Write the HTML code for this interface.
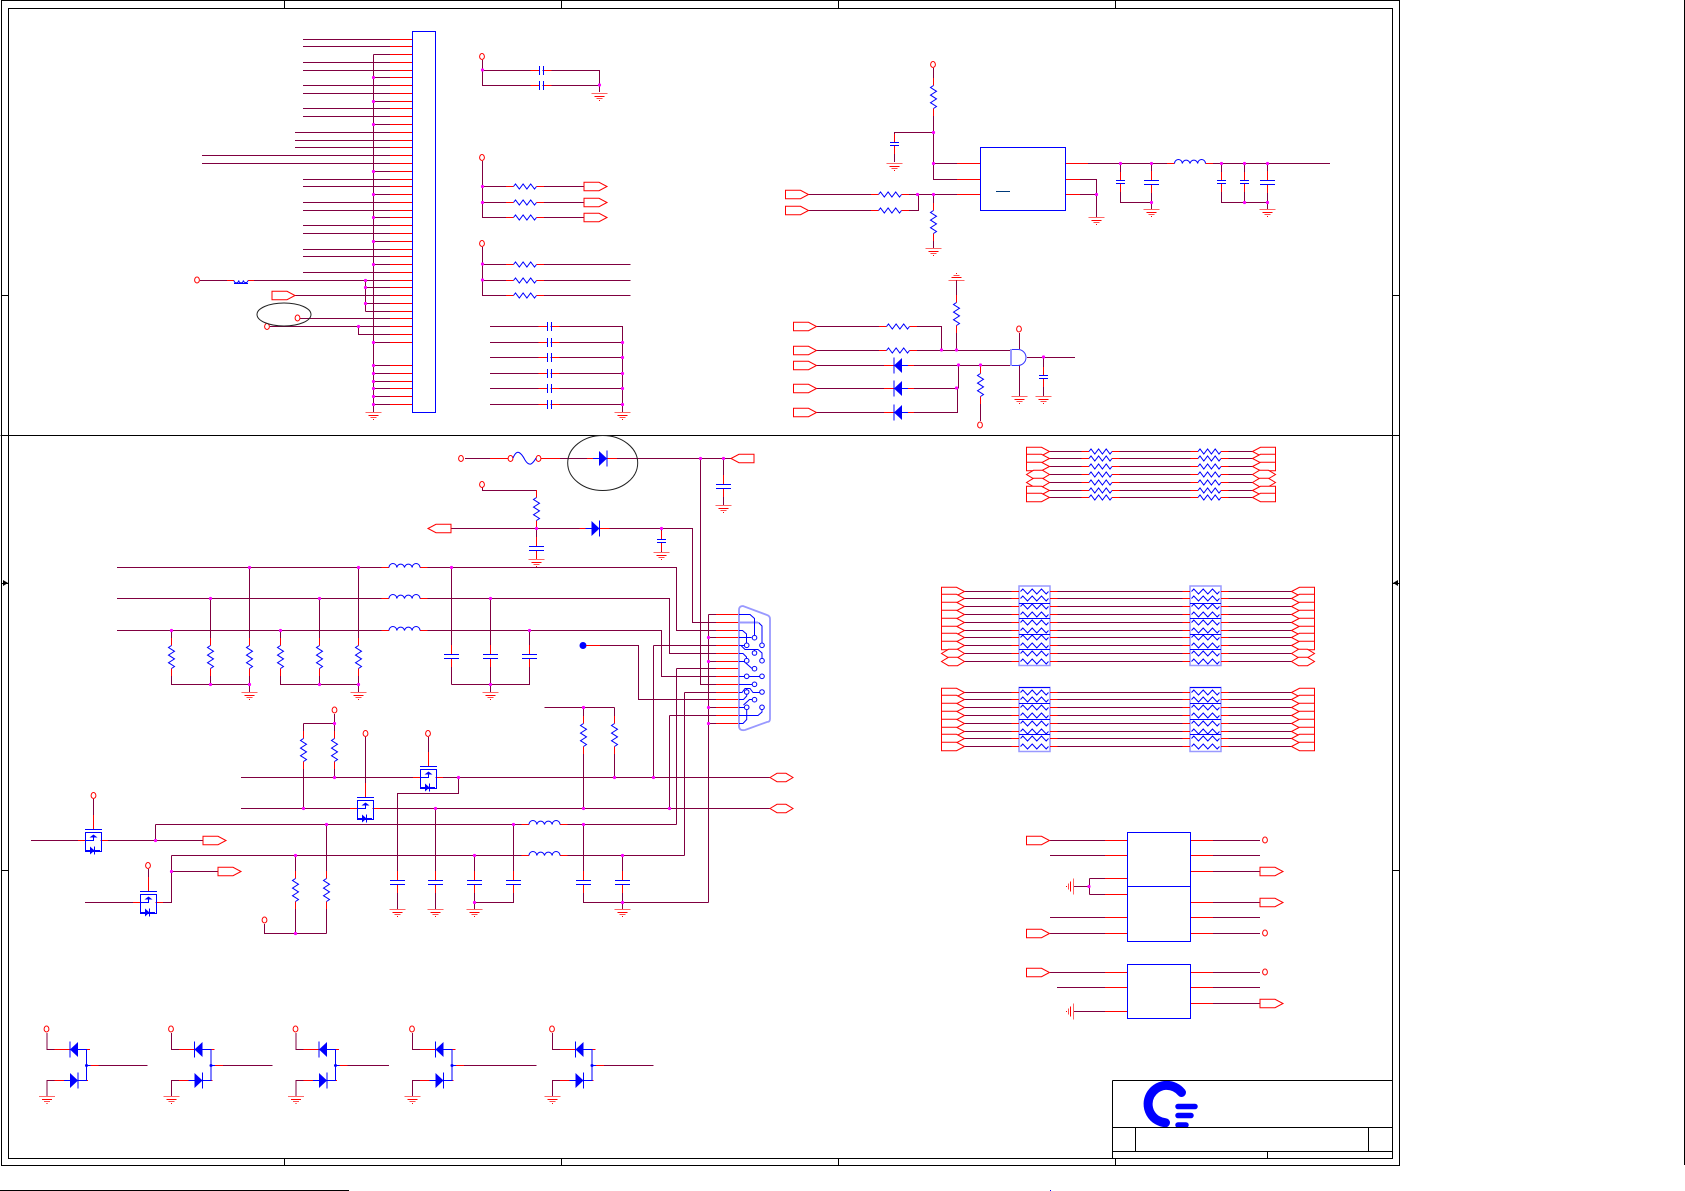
<!DOCTYPE html>
<html><head><meta charset="utf-8"><title>Schematic</title>
<style>
html,body{margin:0;padding:0;background:#fff}
svg{display:block}
.k{stroke:#000;stroke-width:1;fill:none;shape-rendering:crispEdges}
.w{stroke:#800040;stroke-width:1;fill:none;shape-rendering:crispEdges}
.r{stroke:#f00;stroke-width:1;fill:none;shape-rendering:crispEdges}
.b{stroke:#00f;stroke-width:1;fill:none}
.c{stroke:#00f;stroke-width:1;fill:none;shape-rendering:crispEdges}
.j{stroke:#f0f;stroke-width:3.2;stroke-linecap:round;fill:none}
</style></head><body>
<svg xmlns="http://www.w3.org/2000/svg" width="1685" height="1191" viewBox="0 0 1685 1191">
<defs>
<g id="rh"><rect x="-11.5" y="-2.5" width="23" height="6" fill="#fff"/><path class="r" d="M-19 .5H-11.5M11.5 .5H19"/><path class="b" d="M-11.5 .5L-9.5 -2L-5.7 3L-1.9 -2L1.9 3L5.7 -2L9.5 3L11.5 .5"/></g>
<g id="rv"><rect x="-4" y="-11.5" width="8" height="23" fill="#fff"/><path class="r" d="M.5 -19V-11.5M.5 11.5V19"/><path class="b" d="M.5 -11.5L-2.5 -9.5L3.5 -5.7L-2.5 -1.9L3.5 1.9L-2.5 5.7L3.5 9.5L.5 11.5"/></g>
<g id="rw"><rect x="-14" y="-2.5" width="28" height="6" fill="#fff"/><path class="r" d="M-23 .5H-15.5M15.5 .5H23"/><path class="b" d="M-14 .5L-11.7 -2L-7 3L-2.3 -2L2.3 3L7 -2L11.7 3L14 .5"/></g>
<g id="ch"><rect x="-1.5" y="-4" width="3" height="8" fill="#fff"/><path class="r" d="M-10.5 .5H-2M2 .5H10.5"/><path class="c" d="M-1.5 -4V5M2.5 -4V5"/></g>
<g id="cs"><rect x="-5" y="-1.5" width="10" height="3" fill="#fff"/><path class="r" d="M.5 -10V-2M.5 2V10"/><path class="c" d="M-4 -1.5H5M-4 1.5H5"/></g>
<g id="cm"><rect x="-7" y="-2" width="15" height="4" fill="#fff"/><path class="r" d="M.5 -11V-2M.5 2V11"/><path class="c" d="M-6.8 -1.5H7.8M-6.8 2.5H7.8"/></g>
<g id="g"><path class="r" d="M-7.500 .5H8.500" opacity=".6" stroke-width="2"/><path class="r" d="M-4.5 3.5H5.5"/><path class="r" d="M-2.500 5.5H3.500" opacity=".7"/><path class="r" d="M0 7.5H1"/></g>
<polygon id="fr" points="0,-4.2 15,-4.2 23,0 15,4.2 0,4.2" fill="#fff" stroke="#f00" stroke-width="1"/>
<polygon id="fl" points="0,0 8,-4.2 23,-4.2 23,4.2 8,4.2" fill="#fff" stroke="#f00" stroke-width="1"/>
<polygon id="fh" points="0,0 7,-4.2 16,-4.2 23,0 16,4.2 7,4.2" fill="#fff" stroke="#f00" stroke-width="1"/>
<ellipse id="p" cx="0" cy="0" rx="2.4" ry="3" fill="#fff" stroke="#f00" stroke-width="1"/>
<g id="ih"><rect x="-15.5" y="-5" width="31" height="8" fill="#fff"/><path class="r" d="M-23 .5H-15.5M15.5 .5H23"/><path class="b" d="M-15.5 .5A3.9 4 0 0 1 -7.7 .5A3.9 4 0 0 1 0 .5A3.9 4 0 0 1 7.7 .5A3.9 4 0 0 1 15.5 .5"/></g>
<g id="dl"><path class="r" d="M-14 .5H-4M10 .5H16"/><path d="M-4 .5L4 -7V8Z" fill="#00f"/><path class="b" d="M-4 -7.5V8.5M4 .5H10"/></g>
<g id="dr"><path class="r" d="M-16 .5H-10M4 .5H14"/><path d="M4 .5L-4 -7V8Z" fill="#00f"/><path class="b" d="M4 -7.5V8.5M-10 .5H-4"/></g>
<g id="m"><rect x="-7.5" y="-7.5" width="15" height="19" fill="#fff"/><path class="r" d="M.5 -25V-11M-15 .5H-7.5M7.5 .5H15"/><path class="b" d="M-8 -10.5H9M-7.5 -7.5H8.5V11.5H-7.5Z" stroke-width="1.2"/><path class="b" d="M.5 -2.5V.5H-7.5" stroke-width="1.2"/><path d="M.5 -5.5L4.5 -2.5H-3.5Z" fill="#00f"/><path d="M-3 6.5L1.5 10.5L-3 14.5Z" fill="#00f"/><path class="b" d="M1.5 6.5V14.5M-7 10.5H7"/></g>
<g id="pair"><use href="#p" x="0" y="1029"/><path class="w" d="M.5 1033V1049.5H8M.5 1096V1080.5H8"/><path class="r" d="M8 1049.5H24M8 1080.5H24"/><use href="#dl" x="27.5" y="1049"/><use href="#dr" x="27.5" y="1080"/><path class="b" d="M31.5 1049.5H40V1080.5H31.5M40 1065.5H44"/><circle cx="40" cy="1065.5" r="1.5" fill="#00f"/><path class="r" d="M44 1065.5H52"/><use href="#g" x="0" y="1096"/></g>
</defs>

<!-- drawing frame -->
<path class="k" d="M1 .5H1399.5V1165.5H1.5V.5M8.5 8.5H1392.5V1158.5H8.5ZM.5 435.5H1399.5M284.5 0V8M561.5 0V8M838.5 0V8M1115.5 0V8M284.5 1158V1166M561.5 1158V1166M838.5 1158V1166M1115.5 1158V1166M1 295.5H8M1 870.5H8M1392 295.5H1400M1392 870.5H1400M1684.5 0V1165M0 1190.5H349"/>
<path d="M8 583L3 580V586Z" fill="#000"/><path class="k" d="M2 583.5H8M1393 583.5H1399"/><path d="M1393 583L1398 580V586Z" fill="#000"/>
<rect x="1050" y="1190" width="1" height="1" fill="#00f"/>

<!-- top-left connector -->
<path class="w" d="M303 39.5H390M303 46.5H390M373.5 54.5H390M303 62.5H390M303 70.5H390M373.5 77.5H390M303 85.5H390M303 93.5H390M373.5 101.5H390M303 108.5H390M303 116.5H390M373.5 124.5H390M295 132.5H390M295 140.5H390M295 147.5H390M202 155.5H390M202 163.5H390M373.5 171.5H390M303 179.5H390M303 186.5H390M373.5 194.5H390M303 202.5H390M303 210.5H390M373.5 217.5H390M303 225.5H390M303 233.5H390M373.5 241.5H390M303 249.5H390M303 256.5H390M373.5 264.5H390M303 272.5H390M200 280.5H390M365.5 287.5H390M295 295.5H390M365.5 303.5H390M365.5 311.5H390M365.5 280.5V311.5M300 318.5H390M270 326.5H390M358.5 326.5V334.5H390M373.5 342.5H390M373.5 365.5H390M373.5 373.5H390M373.5 381.5H390M373.5 388.5H390M373.5 396.5H390M373.5 404.5H390M373.5 54.5V412"/>
<path class="r" d="M390 39.5H412M390 46.5H412M390 54.5H412M390 62.5H412M390 70.5H412M390 77.5H412M390 85.5H412M390 93.5H412M390 101.5H412M390 108.5H412M390 116.5H412M390 124.5H412M390 132.5H412M390 140.5H412M390 147.5H412M390 155.5H412M390 163.5H412M390 171.5H412M390 179.5H412M390 186.5H412M390 194.5H412M390 202.5H412M390 210.5H412M390 217.5H412M390 225.5H412M390 233.5H412M390 241.5H412M390 249.5H412M390 256.5H412M390 264.5H412M390 272.5H412M390 280.5H412M390 287.5H412M390 295.5H412M390 303.5H412M390 311.5H412M390 318.5H412M390 326.5H412M390 334.5H412M390 342.5H412M390 365.5H412M390 373.5H412M390 381.5H412M390 388.5H412M390 396.5H412M390 404.5H412"/>
<rect x="412.5" y="31.5" width="23" height="381" fill="#fff" stroke="#00f" stroke-width="1" shape-rendering="crispEdges"/>
<path class="j" d="M373.5 77.5h0M373.5 101.5h0M373.5 124.5h0M373.5 171.5h0M373.5 194.5h0M373.5 217.5h0M373.5 241.5h0M373.5 264.5h0M373.5 342.5h0M373.5 365.5h0M373.5 373.5h0M373.5 381.5h0M373.5 388.5h0M373.5 396.5h0M373.5 404.5h0M365.5 280.5h0M365.5 287.5h0M365.5 303.5h0M358.5 326.5h0"/>
<use href="#g" x="373" y="412"/>
<use href="#p" x="197" y="280"/>
<rect x="228" y="276" width="25" height="9" fill="#fff"/>
<path class="r" d="M227 280.5H234M248 280.5H254"/>
<path class="b" d="M234 280.5A2.4 3 0 0 0 238.7 280.5A2.4 3 0 0 0 243.4 280.5A2.4 3 0 0 0 248 280.5M234 283.5H248"/>
<use href="#fr" x="272" y="295.5"/>
<use href="#p" x="297.5" y="318"/>
<use href="#p" x="267" y="326.5"/>
<ellipse cx="284" cy="314.5" rx="27" ry="11.5" fill="none" stroke="#222" stroke-width="1"/>

<!-- caps top -->
<use href="#p" x="482" y="56.5"/>
<path class="w" d="M482.5 60V85.5H599.5V70.5H482.5M599.5 85.5V92"/>
<use href="#ch" x="541" y="70"/><use href="#ch" x="541" y="85"/>
<path class="j" d="M482.5 70h0M599.5 85h0"/>
<use href="#g" x="599" y="93"/>

<!-- pullups flags -->
<use href="#p" x="482" y="157.5"/>
<path class="w" d="M482.5 161V217.5H584M482.5 186.5H584M482.5 202.5H584"/>
<use href="#rh" x="525" y="186"/><use href="#rh" x="525" y="202"/><use href="#rh" x="525" y="217"/>
<use href="#fr" x="584" y="186.5"/><use href="#fr" x="584" y="202.5"/><use href="#fr" x="584" y="217.5"/>
<path class="j" d="M482.5 186.5h0M482.5 202.5h0"/>

<use href="#p" x="482" y="243.5"/>
<path class="w" d="M482.5 247V295.5H630.5M482.5 264.5H630.5M482.5 280.5H630.5"/>
<use href="#rh" x="525" y="264"/><use href="#rh" x="525" y="280"/><use href="#rh" x="525" y="295"/>
<path class="j" d="M482.5 264h0M482.5 280h0"/>

<!-- cap bank -->
<path class="w" d="M490 326.5H622.5V412M490 342.5H622.5M490 357.5H622.5M490 373.5H622.5M490 388.5H622.5M490 404.5H622.5"/>
<use href="#ch" x="549" y="326"/><use href="#ch" x="549" y="342"/><use href="#ch" x="549" y="357"/><use href="#ch" x="549" y="373"/><use href="#ch" x="549" y="388"/><use href="#ch" x="549" y="404"/>
<path class="j" d="M622.5 342.5h0M622.5 357.5h0M622.5 373.5h0M622.5 388.5h0M622.5 404.5h0"/>
<use href="#g" x="622" y="412"/>

<!-- regulator -->
<use href="#p" x="933" y="64.5"/>
<path class="w" d="M933.5 68V179.5H957M933.5 132.5H894.5V162M933.5 163.5H957M808 194.5H957M808 210.5H918.5V194.5M933.5 194.5V248"/>
<path class="r" d="M957 163.5H980M957 179.5H980M957 194.5H980"/>
<use href="#rv" x="933" y="97"/><use href="#rv" x="933" y="222"/>
<use href="#cs" x="894" y="144"/><use href="#g" x="894" y="163"/><use href="#g" x="933" y="248"/>
<use href="#rh" x="890" y="194"/><use href="#rh" x="890" y="210"/>
<use href="#fr" x="785.5" y="194.5"/><use href="#fr" x="785.5" y="210.5"/>
<rect x="980.5" y="147.5" width="85" height="63" fill="#fff" stroke="#00f" stroke-width="1" shape-rendering="crispEdges"/>
<path d="M996 191.5H1010" stroke="#003a7a" stroke-width="1" shape-rendering="crispEdges"/>
<path class="w" d="M1080 163.5H1330M1080 179.5H1096.5V217M1080 194.5H1096.5M1120.5 163.5V202.5H1151.5V209M1151.5 163.5V202.5M1221.5 163.5V202.5H1267.5V209M1244.5 163.5V202.5M1267.5 163.5V202.5"/>
<path class="r" d="M1066 163.5H1088M1066 179.5H1080M1066 194.5H1080"/>
<use href="#ih" x="1190" y="163"/>
<use href="#cs" x="1120" y="182"/><use href="#cm" x="1151" y="182"/><use href="#cs" x="1221" y="182"/><use href="#cs" x="1244" y="182"/><use href="#cm" x="1267" y="182"/>
<use href="#g" x="1096" y="217"/><use href="#g" x="1151" y="209"/><use href="#g" x="1267" y="209"/>
<path class="j" d="M933.5 132.5h0M933.5 163.5h0M917.5 194.5h0M933.5 194.5h0M1096.5 194.5h0M1120.5 163.5h0M1151.5 163.5h0M1221.5 163.5h0M1244.5 163.5h0M1267.5 163.5h0M1151.5 202.5h0M1244.5 202.5h0M1267.5 202.5h0"/>

<!-- gate logic -->
<path class="w" d="M816 326.5H941.5V350.5M816 350.5H1011M816 365.5H1011M816 388.5H957.5M816 412.5H957.5V388.5M958.5 365.5V388.5M956.5 280V350.5M980.5 365.5V421M1019.5 333V349M1019.5 365V396M1027 357.5H1075M1043.5 357.5V396"/>
<use href="#rh" x="898" y="326"/><use href="#rh" x="898" y="350"/>
<use href="#rv" x="956" y="314"/><use href="#rv" x="980" y="385"/>
<use href="#dl" x="898" y="365"/><use href="#dl" x="898" y="388"/><use href="#dl" x="898" y="412"/>
<use href="#fr" x="793.5" y="326.5"/><use href="#fr" x="793.5" y="350.5"/><use href="#fr" x="793.5" y="365.5"/><use href="#fr" x="793.5" y="388.5"/><use href="#fr" x="793.5" y="412.5"/>
<use href="#g" transform="translate(957 281) rotate(180)"/>
<use href="#p" x="980" y="425"/><use href="#p" x="1019" y="329"/>
<path d="M1011 349.5H1018A8 8 0 0 1 1018 365.5H1011Z" fill="#fff" stroke="#33f" stroke-width="1"/>
<path d="M1011 349V366" stroke="#99f" stroke-width="2"/>
<use href="#cs" x="1043" y="377"/>
<use href="#g" x="1019" y="396"/><use href="#g" x="1043" y="396"/>
<path class="j" d="M941.5 350h0M956.5 350h0M958.5 365h0M980.5 365h0M956.5 388h0M1043.5 357h0"/>

<!-- main supply line -->
<use href="#p" x="461" y="458.5"/>
<path class="w" d="M465 458.5H731M723.5 458.5V505M700.5 458.5V684.5H716M482.5 487V490.5H536.5V559M451.5 528.5H692.5V622.5H716M661.5 528.5V552"/>
<path class="r" d="M490 458.5H508M541 458.5H560"/>
<rect x="512" y="450" width="26" height="16" fill="#fff"/>
<use href="#p" x="510.5" y="458.5"/><use href="#p" x="538.5" y="458.5"/>
<path class="b" d="M513 458Q516 451 519 452.500Q522 454 525 460Q528 465 531 464Q534 462 536 458"/>
<use href="#dr" x="603" y="458"/>
<use href="#fl" x="731" y="458.5"/>
<use href="#cm" x="723" y="486"/><use href="#g" x="723" y="505"/>
<use href="#p" x="482" y="484.5"/>
<use href="#rv" x="536" y="509"/>
<use href="#fl" x="428" y="528.5"/>
<use href="#dr" x="595.5" y="528"/>
<use href="#cm" x="536" y="548"/><use href="#g" x="536" y="559"/>
<use href="#cs" x="661" y="541"/><use href="#g" x="661" y="552"/>
<ellipse cx="602.700" cy="463" rx="35" ry="27.500" fill="none" stroke="#222" stroke-width="1"/>

<!-- three buses -->
<path class="w" d="M117 567.5H676.5V630.5H716M117 598.5H669.5V653.5H716M117 630.5H661.5V676.5H716M249.5 567.5V692M358.5 567.5V692M451.5 567.5V684.5M210.5 598.5V684.5M319.5 598.5V684.5M490.5 598.5V692M171.5 630.5V684.5H249.5M280.5 630.5V684.5H358.5M529.5 630.5V684.5H451.5M586 645.5H638.5V699.5H716M653.5 645.5H716M653.5 645.5V777.5M669.5 715.5H716M669.5 715.5V808.5M676.5 668.5H716M676.5 668.5V824.5M684.5 692.5H716M684.5 692.5V855.5M708.5 614.5H716M708.5 614.5V902.5M708.5 637.5H716M708.5 661.5H716M708.5 707.5H716M708.5 723.5H716"/>
<use href="#ih" x="404.5" y="567"/><use href="#ih" x="404.5" y="598"/><use href="#ih" x="404.5" y="630"/>
<use href="#rv" x="171" y="657"/><use href="#rv" x="210" y="657"/><use href="#rv" x="249" y="657"/><use href="#rv" x="280" y="657"/><use href="#rv" x="319" y="657"/><use href="#rv" x="358" y="657"/>
<use href="#cm" x="451" y="656"/><use href="#cm" x="490" y="656"/><use href="#cm" x="529" y="656"/>
<use href="#g" x="249" y="692"/><use href="#g" x="358" y="692"/><use href="#g" x="490" y="692"/>
<circle cx="583" cy="645.5" r="3.5" fill="#00f"/>
<path class="r" d="M586 645.5H600"/>
<path class="j" d="M700.5 458.5h0M723.5 458.5h0M536.5 528.5h0M661.5 528.5h0M249.5 567.5h0M358.5 567.5h0M451.5 567.5h0M210.5 598.5h0M319.5 598.5h0M490.5 598.5h0M171.5 630.5h0M280.5 630.5h0M529.5 630.5h0M210.5 684.5h0M249.5 684.5h0M319.5 684.5h0M358.5 684.5h0M490.5 684.5h0M708.5 637.5h0M708.5 661.5h0M708.5 707.5h0M708.5 723.5h0"/>

<!-- DB15 connector -->
<path class="r" d="M716 614.5H739M716 622.5H739M716 630.5H739M716 637.5H739M716 645.5H739M716 653.5H739M716 661.5H739M716 668.5H739M716 676.5H739M716 684.5H739M716 692.5H739M716 699.5H739M716 707.5H739M716 715.5H739M716 723.5H739"/>
<path d="M739 610Q739 606 743 606L767 615Q770 616 770 619V719Q770 722 767 722L745 730Q739 731 739 726Z" fill="#fff" stroke="#99f" stroke-width="1.8"/>
<path d="M739 622.5H758" stroke="#99f" stroke-width="2" fill="none"/>
<path class="b" d="M739 614.5H750L754.5 618.5V635M758.5 622.5L762 626V643M739 630.5H742.5L746.5 634V643M739 637.5H751.5M739 645.5H744M741 645.5L745 649.5H758L762 653V658M739 653.5H743L746.5 657V658M754.5 649.5V650.5M739 661.5H744L752 668.5H752M739 676.5H744M749 676.5H759.5M739 684.5H752M739 692.5H742L745 688.5H750L753 692.5H759.5M739 699.5H743.5L746.7 696V689M743.5 705L749.5 699.5H752M739 707.5H744M739 715.5H758L762 712V710M739 723.5H743L746.7 719.5V710"/>
<g fill="#fff" stroke="#00f" stroke-width="1"><circle cx="754.5" cy="637.7" r="2.3"/><circle cx="746.7" cy="645.3" r="2.3"/><circle cx="762" cy="645.3" r="2.3"/><circle cx="754.5" cy="653" r="2.3"/><circle cx="746.7" cy="660.7" r="2.3"/><circle cx="762" cy="660.7" r="2.3"/><circle cx="754.5" cy="668.7" r="2.3"/><circle cx="746.7" cy="676.3" r="2.3"/><circle cx="762" cy="676.3" r="2.3"/><circle cx="754.5" cy="684.3" r="2.3"/><circle cx="746.7" cy="692" r="2.3"/><circle cx="762" cy="692" r="2.3"/><circle cx="754.5" cy="699.7" r="2.3"/><circle cx="746.7" cy="707.3" r="2.3"/><circle cx="762" cy="707.3" r="2.3"/></g>

<!-- lower wiring -->
<path class="w" d="M241 777.5H771M241 808.5H771M155.5 824.5H676.5M171.5 855.5H684.5M31 840.5H203M155.5 824.5V840.5M85 902.5H171.5V855.5M171.5 871.5H218M458.5 777.5V793.5H397.5V909M435.5 808.5V909M474.5 855.5V909M513.5 824.5V902.5H474.5M583.5 707.5V808.5M583.5 824.5V902.5H708.5M622.5 855.5V909M614.5 707.5V777.5M544.5 707.5H614.5M365.5 737V786M428.5 737V755M93.5 799V817M148.5 869V879M334.5 714V777.5M303.5 723.5H334.5M303.5 723.5V808.5M264.5 924V933.5H326.5M295.5 855.5V933.5M326.5 824.5V933.5"/>
<use href="#ih" x="544.5" y="824"/><use href="#ih" x="544.5" y="855"/>
<use href="#rv" x="303" y="750"/><use href="#rv" x="334" y="750"/>
<use href="#rv" x="583" y="735"/><use href="#rv" x="614" y="735"/>
<use href="#rv" x="295" y="890"/><use href="#rv" x="326" y="890"/>
<use href="#cm" x="397" y="882"/><use href="#cm" x="435" y="882"/><use href="#cm" x="474" y="882"/><use href="#cm" x="513" y="882"/><use href="#cm" x="583" y="882"/><use href="#cm" x="622" y="882"/>
<use href="#g" x="397" y="909"/><use href="#g" x="435" y="909"/><use href="#g" x="474" y="909"/><use href="#g" x="622" y="909"/>
<use href="#m" x="428" y="777"/><use href="#m" x="365" y="808"/><use href="#m" x="93" y="840"/><use href="#m" x="148" y="902"/>
<use href="#p" x="428" y="733.5"/><use href="#p" x="365.5" y="733.5"/><use href="#p" x="93.5" y="795.5"/><use href="#p" x="148" y="865.5"/><use href="#p" x="334.5" y="710"/><use href="#p" x="264.5" y="920"/>
<use href="#fh" x="770" y="777.5"/><use href="#fh" x="770" y="808.5"/>
<use href="#fr" x="203" y="840.5"/><use href="#fr" x="218" y="871.5"/>
<path class="j" d="M334.5 723.5h0M334.5 777.5h0M458.5 777.5h0M583.5 707.5h0M614.5 777.5h0M653.5 777.5h0M303.5 808.5h0M435.5 808.5h0M583.5 808.5h0M669.5 808.5h0M326.5 824.5h0M513.5 824.5h0M583.5 824.5h0M295.5 855.5h0M474.5 855.5h0M622.5 855.5h0M155.5 840.5h0M171.5 871.5h0M474.5 902.5h0M622.5 902.5h0M295.5 933.5h0"/>

<!-- diode pairs -->
<g transform="translate(46.5 0)"><use href="#pair"/></g>
<g transform="translate(171 0)"><use href="#pair"/></g>
<g transform="translate(295.5 0)"><use href="#pair"/></g>
<g transform="translate(412 0)"><use href="#pair"/></g>
<g transform="translate(552 0)"><use href="#pair"/></g>
<path class="w" d="M98.5 1065.5H147.5M223 1065.5H272.5M347.5 1065.5H389M464 1065.5H536.5M604 1065.5H653.5"/>

<!-- right upper resistor group -->
<path class="w" d="M1049 451.5H1253M1049 458.5H1253M1049 466.5H1253M1049 474.5H1253M1049 482.5H1253M1049 490.5H1253M1049 497.5H1253"/>
<use href="#fr" x="1026.5" y="451.5"/><use href="#fr" x="1026.5" y="458.5"/><use href="#fr" x="1026.5" y="466.5"/><use href="#fh" x="1026.5" y="474.5"/><use href="#fh" x="1026.5" y="482.5"/><use href="#fr" x="1026.5" y="490.5"/><use href="#fr" x="1026.5" y="497.5"/>
<use href="#fl" x="1252.5" y="451.5"/><use href="#fl" x="1252.5" y="458.5"/><use href="#fl" x="1252.5" y="466.5"/><use href="#fh" x="1252.5" y="474.5"/><use href="#fh" x="1252.5" y="482.5"/><use href="#fl" x="1252.5" y="490.5"/><use href="#fl" x="1252.5" y="497.5"/>
<use href="#rh" x="1100.5" y="451"/><use href="#rh" x="1100.5" y="458"/><use href="#rh" x="1100.5" y="466"/><use href="#rh" x="1100.5" y="474"/><use href="#rh" x="1100.5" y="482"/><use href="#rh" x="1100.5" y="490"/><use href="#rh" x="1100.5" y="497"/>
<use href="#rh" x="1209.5" y="451"/><use href="#rh" x="1209.5" y="458"/><use href="#rh" x="1209.5" y="466"/><use href="#rh" x="1209.5" y="474"/><use href="#rh" x="1209.5" y="482"/><use href="#rh" x="1209.5" y="490"/><use href="#rh" x="1209.5" y="497"/>

<!-- middle and third resistor groups -->
<path class="w" d="M964 591.5H1292M964 598.5H1292M964 606.5H1292M964 614.5H1292M964 622.5H1292M964 630.5H1292M964 637.5H1292M964 645.5H1292M964 653.5H1292M964 661.5H1292M964 692.5H1292M964 699.5H1292M964 707.5H1292M964 715.5H1292M964 723.5H1292M964 731.5H1292M964 738.5H1292M964 746.5H1292"/>
<use href="#fr" x="941.5" y="591.5"/><use href="#fr" x="941.5" y="598.5"/><use href="#fr" x="941.5" y="606.5"/><use href="#fr" x="941.5" y="614.5"/><use href="#fr" x="941.5" y="622.5"/><use href="#fr" x="941.5" y="630.5"/><use href="#fr" x="941.5" y="637.5"/><use href="#fr" x="941.5" y="645.5"/><use href="#fh" x="941.5" y="653.5"/><use href="#fh" x="941.5" y="661.5"/>
<use href="#fl" x="1291.5" y="591.5"/><use href="#fl" x="1291.5" y="598.5"/><use href="#fl" x="1291.5" y="606.5"/><use href="#fl" x="1291.5" y="614.5"/><use href="#fl" x="1291.5" y="622.5"/><use href="#fl" x="1291.5" y="630.5"/><use href="#fl" x="1291.5" y="637.5"/><use href="#fl" x="1291.5" y="645.5"/><use href="#fh" x="1291.5" y="653.5"/><use href="#fh" x="1291.5" y="661.5"/>
<use href="#fr" x="941.5" y="692.5"/><use href="#fr" x="941.5" y="699.5"/><use href="#fr" x="941.5" y="707.5"/><use href="#fr" x="941.5" y="715.5"/><use href="#fr" x="941.5" y="723.5"/><use href="#fr" x="941.5" y="731.5"/><use href="#fr" x="941.5" y="738.5"/><use href="#fr" x="941.5" y="746.5"/>
<use href="#fl" x="1291.5" y="692.5"/><use href="#fl" x="1291.5" y="699.5"/><use href="#fl" x="1291.5" y="707.5"/><use href="#fl" x="1291.5" y="715.5"/><use href="#fl" x="1291.5" y="723.5"/><use href="#fl" x="1291.5" y="731.5"/><use href="#fl" x="1291.5" y="738.5"/><use href="#fl" x="1291.5" y="746.5"/>
<g fill="#fff" stroke="#99f" stroke-width="1.5"><rect x="1019" y="586" width="31" height="79.5"/><rect x="1190" y="586" width="31" height="79.5"/><rect x="1019" y="687.5" width="31" height="64"/><rect x="1190" y="687.5" width="31" height="64"/></g>
<use href="#rw" x="1034.5" y="591"/><use href="#rw" x="1034.5" y="598"/><use href="#rw" x="1034.5" y="606"/><use href="#rw" x="1034.5" y="614"/><use href="#rw" x="1034.5" y="622"/><use href="#rw" x="1034.5" y="630"/><use href="#rw" x="1034.5" y="637"/><use href="#rw" x="1034.5" y="645"/><use href="#rw" x="1034.5" y="653"/><use href="#rw" x="1034.5" y="661"/>
<use href="#rw" x="1205.5" y="591"/><use href="#rw" x="1205.5" y="598"/><use href="#rw" x="1205.5" y="606"/><use href="#rw" x="1205.5" y="614"/><use href="#rw" x="1205.5" y="622"/><use href="#rw" x="1205.5" y="630"/><use href="#rw" x="1205.5" y="637"/><use href="#rw" x="1205.5" y="645"/><use href="#rw" x="1205.5" y="653"/><use href="#rw" x="1205.5" y="661"/>
<use href="#rw" x="1034.5" y="692"/><use href="#rw" x="1034.5" y="699"/><use href="#rw" x="1034.5" y="707"/><use href="#rw" x="1034.5" y="715"/><use href="#rw" x="1034.5" y="723"/><use href="#rw" x="1034.5" y="731"/><use href="#rw" x="1034.5" y="738"/><use href="#rw" x="1034.5" y="746"/>
<use href="#rw" x="1205.5" y="692"/><use href="#rw" x="1205.5" y="699"/><use href="#rw" x="1205.5" y="707"/><use href="#rw" x="1205.5" y="715"/><use href="#rw" x="1205.5" y="723"/><use href="#rw" x="1205.5" y="731"/><use href="#rw" x="1205.5" y="738"/><use href="#rw" x="1205.5" y="746"/>
<path class="c" d="M1019 603.5H1050M1019 618.5H1050M1019 634.5H1050M1019 649.5H1050M1190 603.5H1221M1190 618.5H1221M1190 634.5H1221M1190 649.5H1221M1019 687.5H1050M1190 687.5H1221M1019 703.5H1050M1019 719.5H1050M1019 734.5H1050M1190 703.5H1221M1190 719.5H1221M1190 734.5H1221"/>

<!-- right-bottom ICs -->
<path class="w" d="M1050 840.5H1105M1050 855.5H1105M1089.5 878.5H1105M1089.5 894.5H1105M1089.5 878.5V894.5M1074 886.5H1089.5M1050 917.5H1105M1050 933.5H1105M1213 840.5H1260M1213 855.5H1260M1213 871.5H1260M1213 902.5H1260M1213 917.5H1260M1213 933.5H1260M1050 972.5H1105M1057 987.5H1105M1074 1011.5H1105M1213 972.5H1260M1213 987.5H1260M1213 1003.5H1260"/>
<path class="r" d="M1105 840.5H1127M1105 855.5H1127M1105 878.5H1127M1105 894.5H1127M1105 917.5H1127M1105 933.5H1127M1105 972.5H1127M1105 987.5H1127M1105 1011.5H1127M1190 840.5H1213M1190 855.5H1213M1190 871.5H1213M1190 902.5H1213M1190 917.5H1213M1190 933.5H1213M1190 972.5H1213M1190 987.5H1213M1190 1003.5H1213"/>
<g fill="#fff" stroke="#00f" stroke-width="1" shape-rendering="crispEdges"><rect x="1127.5" y="832.5" width="63" height="109"/><rect x="1127.5" y="964.5" width="63" height="54"/></g>
<path class="c" d="M1127.5 886.5H1190.5"/>
<use href="#fr" x="1026.5" y="840.5"/><use href="#fr" x="1026.5" y="933.5"/><use href="#fr" x="1026.5" y="972.5"/>
<use href="#fr" x="1260" y="871.5"/><use href="#fr" x="1260" y="902.5"/><use href="#fr" x="1260" y="1003.5"/>
<use href="#p" x="1265" y="840"/><use href="#p" x="1265" y="933"/><use href="#p" x="1265" y="972"/>
<use href="#g" transform="translate(1074 886) rotate(90)"/><use href="#g" transform="translate(1074 1011) rotate(90)"/>
<path class="j" d="M1089 886.5h0"/>

<!-- title block and logo -->
<path d="M1181.5 1092.5A18.7 18.7 0 1 0 1165.5 1122.7" fill="none" stroke="#00f" stroke-width="9" stroke-linecap="round"/>
<path d="M1178 1106.5H1195M1178 1115.5H1191M1178 1125H1186" fill="none" stroke="#00f" stroke-width="5.5" stroke-linecap="round"/>
<rect x="1113" y="1127.5" width="279" height="8" fill="#fff"/>
<path class="k" d="M1112.5 1080.5H1392.5M1112.5 1080.5V1158.5M1112.5 1127.5H1392.5M1112.5 1151.5H1392.5M1135.5 1127.5V1151.5M1368.5 1127.5V1151.5M1267.5 1151.5V1158.5"/>
</svg>
</body></html>
